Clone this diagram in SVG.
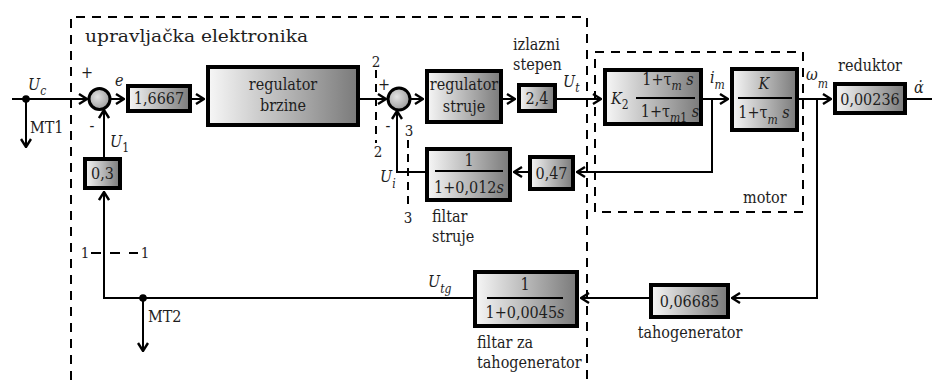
<svg xmlns="http://www.w3.org/2000/svg" width="932" height="383" viewBox="0 0 932 383">
  <defs>
    <linearGradient id="g" x1="0" y1="0" x2="1" y2="0">
      <stop offset="0" stop-color="#f7f7f7"/>
      <stop offset="1" stop-color="#7a7a7a"/>
    </linearGradient>
    <radialGradient id="gc" cx="0.4" cy="0.4" r="0.7">
      <stop offset="0" stop-color="#e2e2e2"/>
      <stop offset="1" stop-color="#959595"/>
    </radialGradient>
    <marker id="arr" viewBox="0 0 10 12" markerWidth="10" markerHeight="12" refX="9" refY="6" orient="auto" markerUnits="userSpaceOnUse">
      <path d="M1,1 L9,6 L1,11" fill="none" stroke="#000" stroke-width="2.4"/>
    </marker>
    <style>
      .blk{fill:url(#g);stroke:#000;stroke-width:4}
      .sum{fill:url(#gc);stroke:#000;stroke-width:3}
      .ln{fill:none;stroke:#000;stroke-width:2}
      .ar{marker-end:url(#arr)}
      .dash{fill:none;stroke:#000;stroke-width:2;stroke-dasharray:9 7}
      .t{font-family:'DejaVu Serif Condensed','DejaVu Serif',serif;font-size:16px;fill:#1e1e1e}
      .i{font-style:italic}
      .c{text-anchor:middle}
      .sb{font-size:12px}
      .n{font-size:15px}
    </style>
  </defs>

  <!-- dashed frames and cut lines -->
  <g id="frames">
    <path class="dash" d="M71,380 V17 H587 V380"/>
    <rect class="dash" x="595" y="52" width="208" height="160"/>
    <path class="dash" d="M91,253 H138" style="stroke-dasharray:10 9"/>
    <path class="dash" d="M376,70 V143" style="stroke-dasharray:8 6"/>
    <path class="dash" d="M408,140 V208" style="stroke-dasharray:8 6"/>
    <text class="t" x="85" y="42" font-size="19" textLength="223" lengthAdjust="spacingAndGlyphs">upravljačka elektronika</text>
    <text class="t" x="743" y="203">motor</text>
    <text class="t n c" x="85" y="258">1</text>
    <text class="t n c" x="145" y="258">1</text>
    <text class="t n c" x="376" y="67">2</text>
    <text class="t n c" x="378" y="157">2</text>
    <text class="t n c" x="409" y="136">3</text>
    <text class="t n c" x="408" y="223">3</text>
  </g>

  <!-- connectors -->
  <g id="connectors">
    <path class="ln ar" d="M12,99 H87"/>
    <path class="ln ar" d="M111,99 H124"/>
    <path class="ln ar" d="M192,99 H204"/>
    <path class="ln ar" d="M360,99 H386"/>
    <path class="ln ar" d="M411,99 H423"/>
    <path class="ln ar" d="M503,99 H515"/>
    <path class="ln ar" d="M557,99 H601"/>
    <path class="ln ar" d="M703,99 H728"/>
    <path class="ln ar" d="M712,99 V172 H577"/>
    <path class="ln ar" d="M799,99 H831"/>
    <path class="ln" d="M907,99 H932"/>
    <path class="ln ar" d="M817,99 V298 H732"/>
    <path class="ln ar" d="M649,298 H581"/>
    <path class="ln ar" d="M473,298 H104 V192"/>
    <path class="ln ar" d="M104,157 V110"/>
    <path class="ln ar" d="M528,172 H514"/>
    <path class="ln ar" d="M425,172 H397 V111"/>
    <path class="ln ar" d="M26,99 V147"/>
    <path class="ln ar" d="M143,298 V351"/>
    <circle cx="26" cy="99" r="3.8"/>
    <circle cx="143" cy="298" r="3.8"/>
  </g>

  <!-- signal labels -->
  <g id="labels">
    <text class="t i" x="28" y="90">U<tspan class="sb" dy="5">c</tspan></text>
    <text class="t" x="30" y="133">MT1</text>
    <text class="t" x="148" y="322">MT2</text>
    <text class="t c" x="87" y="78" font-size="15">+</text>
    <text class="t i" x="115" y="86">e</text>
    <text class="t c" x="92" y="131">-</text>
    <text class="t i" x="110" y="147">U<tspan class="sb" dy="5" font-style="normal">1</tspan></text>
    <text class="t c" x="384" y="90" font-size="15">+</text>
    <text class="t c" x="388" y="131">-</text>
    <text class="t i" x="380" y="182">U<tspan class="sb" dy="6">i</tspan></text>
    <text class="t" x="432" y="222">filtar</text>
    <text class="t" x="432" y="242">struje</text>
    <text class="t" x="513" y="50">izlazni</text>
    <text class="t" x="513" y="70">stepen</text>
    <text class="t i" x="563" y="87">U<tspan class="sb" dy="5">t</tspan></text>
    <text class="t i" x="710" y="83">i<tspan class="sb" dy="6">m</tspan></text>
    <text class="t i" x="806" y="80">ω<tspan class="sb" dy="8">m</tspan></text>
    <text class="t c" x="870" y="71">reduktor</text>
    <text class="t i" x="914" y="93">α̇</text>
    <text class="t i" x="428" y="287">U<tspan class="sb" dy="6">tg</tspan></text>
    <text class="t" x="477" y="348">filtar za</text>
    <text class="t" x="477" y="368">tahogenerator</text>
    <text class="t c" x="690" y="338">tahogenerator</text>
  </g>

  <!-- summing junctions -->
  <g id="sum1"><circle class="sum" cx="99.5" cy="99" r="10.5"/></g>
  <g id="sum2"><circle class="sum" cx="399" cy="99" r="11"/></g>

  <!-- blocks -->
  <g id="gain-e">
    <rect class="blk" x="128" y="86" width="62" height="25"/>
    <text class="t c" x="159" y="104">1,6667</text>
  </g>
  <g id="gain-fb">
    <rect class="blk" x="85" y="159" width="35" height="29"/>
    <text class="t c" x="102.5" y="179">0,3</text>
  </g>
  <g id="reg-brzine">
    <rect class="blk" x="208" y="67" width="150" height="58"/>
    <text class="t c" x="283" y="90">regulator</text>
    <text class="t c" x="283" y="111">brzine</text>
  </g>
  <g id="reg-struje">
    <rect class="blk" x="427" y="71" width="74" height="51"/>
    <text class="t c" x="464" y="90">regulator</text>
    <text class="t c" x="464" y="112">struje</text>
  </g>
  <g id="izlazni-stepen">
    <rect class="blk" x="519" y="85" width="36" height="26"/>
    <text class="t c" x="537" y="104">2,4</text>
  </g>
  <g id="filtar-struje">
    <rect class="blk" x="427" y="149" width="83" height="51"/>
    <text class="t c" x="469" y="166">1</text>
    <path class="ln" d="M435,171 H503"/>
    <text class="t c" x="469" y="193">1+0,012<tspan class="i">s</tspan></text>
  </g>
  <g id="gain-struja">
    <rect class="blk" x="530" y="157" width="43" height="32"/>
    <text class="t c" x="551.5" y="179">0,47</text>
  </g>
  <g id="motor-el">
    <rect class="blk" x="605" y="70" width="96" height="54"/>
    <text class="t i" x="611" y="104">K<tspan class="sb" dy="5" font-style="normal">2</tspan></text>
    <text class="t c" x="668" y="85">1+τ<tspan class="sb i" dy="5">m</tspan><tspan class="i" dy="-5"> s</tspan></text>
    <path class="ln" d="M636,98 H695"/>
    <text class="t c" x="670" y="117">1+τ<tspan class="sb i" dy="5">m</tspan><tspan class="sb">1</tspan><tspan class="i" dy="-5"> s</tspan></text>
  </g>
  <g id="motor-meh">
    <rect class="blk" x="732" y="69" width="65" height="61"/>
    <text class="t i c" x="764" y="89">K</text>
    <path class="ln" d="M738,98 H792"/>
    <text class="t c" x="764" y="118">1+τ<tspan class="sb i" dy="6">m</tspan><tspan class="i" dy="-6"> s</tspan></text>
  </g>
  <g id="reduktor">
    <rect class="blk" x="835" y="84" width="70" height="29"/>
    <text class="t c" x="870" y="105">0,00236</text>
  </g>
  <g id="tahogenerator">
    <rect class="blk" x="651" y="285" width="77" height="32"/>
    <text class="t c" x="689.5" y="307">0,06685</text>
  </g>
  <g id="filtar-tg">
    <rect class="blk" x="475" y="272" width="102" height="54"/>
    <text class="t c" x="525" y="290">1</text>
    <path class="ln" d="M487,298 H563"/>
    <text class="t c" x="525" y="318">1+0,0045<tspan class="i">s</tspan></text>
  </g>
</svg>
